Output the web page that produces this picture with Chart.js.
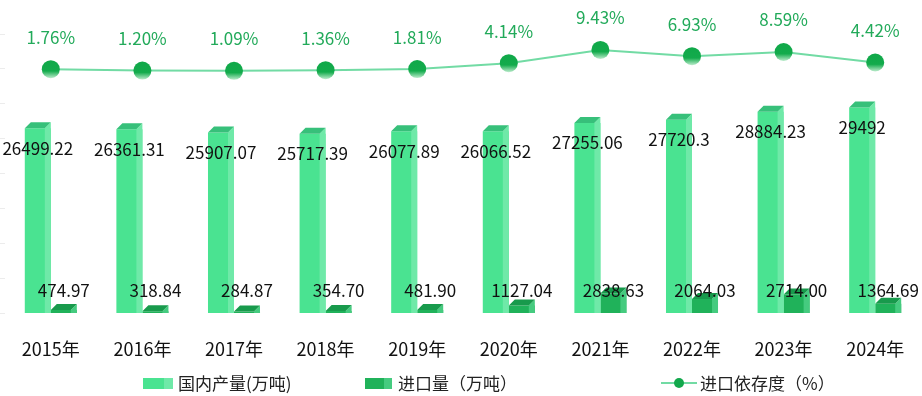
<!DOCTYPE html>
<html lang="zh">
<head>
    <meta charset="UTF-8">
    <title>国内产量与进口量</title>
    <script src="https://cdn.jsdelivr.net/npm/chart.js"></script>
    <style>
        body { margin: 0; background: #fff; font-family: "Noto Sans CJK SC", sans-serif; }
        .wrap { position: relative; width: 922px; height: 396px; }
        .legend-box { position: absolute; height: 11px; top: 378px; }
        .legend-text { position: absolute; top: 372px; font-size: 17px; line-height: 22px; color: #222; white-space: nowrap; }
        .legend-line { position: absolute; top: 382px; height: 2px; background: #72dba4; }
        .legend-dot { position: absolute; top: 378px; width: 10px; height: 10px; border-radius: 50%; background: #12a84c; }
    </style>
</head>
<body>
    <div class="wrap">
        <canvas id="chart" width="922" height="396"></canvas>
        <div class="legend-box" style="left:143px;width:30px;background:linear-gradient(90deg,#4ae391 70%,#6fe9a8 70%);"></div>
        <div class="legend-text" style="left:178px;">国内产量(万吨)</div>
        <div class="legend-box" style="left:365px;width:27px;background:linear-gradient(90deg,#20b25a 70%,#45cb7f 70%);"></div>
        <div class="legend-text" style="left:398px;">进口量（万吨）</div>
        <div class="legend-line" style="left:661px;width:36px;"></div>
        <div class="legend-dot" style="left:674px;"></div>
        <div class="legend-text" style="left:700px;">进口依存度（%）</div>
    </div>

    <script>
        const years = ['2015年', '2016年', '2017年', '2018年', '2019年', '2020年', '2021年', '2022年', '2023年', '2024年'];
        const domestic = [26499.22, 26361.31, 25907.07, 25717.39, 26077.89, 26066.52, 27255.06, 27720.3, 28884.23, 29492];
        const domesticText = ['26499.22', '26361.31', '25907.07', '25717.39', '26077.89', '26066.52', '27255.06', '27720.3', '28884.23', '29492'];
        const imports = [474.97, 318.84, 284.87, 354.70, 481.90, 1127.04, 2838.63, 2064.03, 2714.00, 1364.69];
        const importText = ['474.97', '318.84', '284.87', '354.70', '481.90', '1127.04', '2838.63', '2064.03', '2714.00', '1364.69'];
        const dependence = [1.76, 1.20, 1.09, 1.36, 1.81, 4.14, 9.43, 6.93, 8.59, 4.42];

        const FONT = '"Noto Sans CJK SC", sans-serif';
        const faces = [
            { side: '#6fe9a8', top: '#37c07a' },
            { side: '#45cb7f', top: '#189a4c' }
        ];

        // side + top faces so the bars look like boxes
        const boxPlugin = {
            id: 'box3d',
            afterDatasetDraw(chart, args) {
                const f = faces[args.index];
                if (!f) return;
                const ctx = chart.ctx;
                const d = 6;
                args.meta.data.forEach(bar => {
                    const p = bar.getProps(['x', 'y', 'base', 'width'], true);
                    const xL = p.x - p.width / 2, xR = p.x + p.width / 2;
                    ctx.save();
                    ctx.fillStyle = f.side;
                    ctx.beginPath();
                    ctx.moveTo(xR - d, p.y);
                    ctx.lineTo(xR, p.y - d);
                    ctx.lineTo(xR, p.base);
                    ctx.lineTo(xR - d, p.base);
                    ctx.closePath();
                    ctx.fill();
                    ctx.fillStyle = f.top;
                    ctx.beginPath();
                    ctx.moveTo(xL, p.y);
                    ctx.lineTo(xL + d, p.y - d);
                    ctx.lineTo(xR, p.y - d);
                    ctx.lineTo(xR - d, p.y);
                    ctx.closePath();
                    ctx.fill();
                    ctx.restore();
                });
            },
            afterDatasetsDraw(chart) {
                const ctx = chart.ctx;
                ctx.save();
                ctx.textAlign = 'center';
                ctx.textBaseline = 'middle';
                ctx.font = '17px ' + FONT;

                const m0 = chart.getDatasetMeta(0);
                m0.data.forEach((bar, i) => {
                    ctx.fillStyle = '#111';
                    ctx.fillText(domesticText[i], bar.x, bar.y + 20);
                });
                const m1 = chart.getDatasetMeta(1);
                m1.data.forEach((bar, i) => {
                    ctx.fillStyle = '#111';
                    ctx.fillText(importText[i], bar.x, bar.base - 22);
                });

                // line points with a soft gradient, and % labels
                const m2 = chart.getDatasetMeta(2);
                m2.data.forEach((pt, i) => {
                    const g = ctx.createLinearGradient(0, pt.y - 9, 0, pt.y + 9);
                    g.addColorStop(0, '#10a849');
                    g.addColorStop(0.6, '#13ab4c');
                    g.addColorStop(1, '#bdeccd');
                    ctx.fillStyle = g;
                    ctx.beginPath();
                    ctx.arc(pt.x, pt.y, 9, 0, Math.PI * 2);
                    ctx.fill();
                    ctx.fillStyle = '#22aa5a';
                    ctx.fillText(dependence[i].toFixed(2) + '%', pt.x, pt.y - 32);
                });
                ctx.restore();
            }
        };

        new Chart(document.getElementById('chart'), {
            data: {
                labels: years,
                datasets: [
                    {
                        type: 'bar',
                        label: '国内产量(万吨)',
                        data: domestic,
                        backgroundColor: '#4ae391',
                        yAxisID: 'y',
                        order: 2
                    },
                    {
                        type: 'bar',
                        label: '进口量（万吨）',
                        data: imports,
                        backgroundColor: '#20b25a',
                        yAxisID: 'y',
                        order: 2
                    },
                    {
                        type: 'line',
                        label: '进口依存度（%）',
                        data: dependence,
                        borderColor: '#72dba4',
                        borderWidth: 2,
                        pointRadius: 0,
                        tension: 0,
                        yAxisID: 'y2',
                        order: 1
                    }
                ]
            },
            options: {
                responsive: false,
                animation: false,
                categoryPercentage: 0.568,
                barPercentage: 1,
                layout: { padding: { top: 34, bottom: 11, right: 1, left: 0 } },
                plugins: {
                    legend: { display: false },
                    tooltip: { enabled: false }
                },
                scales: {
                    x: {
                        grid: { display: false, drawTicks: false },
                        border: { display: false },
                        ticks: { padding: 25, color: '#111', font: { family: FONT, size: 18 } },
                        afterFit(scale) {
                            scale.paddingLeft = 0;
                            scale.paddingRight = 0;
                        }
                    },
                    y: {
                        min: 0,
                        max: 40000,
                        ticks: { display: false, stepSize: 5000 },
                        grid: { drawOnChartArea: false, tickLength: 5, color: '#ececec' },
                        border: { display: false }
                    },
                    y2: {
                        display: false,
                        min: -95.35,
                        max: 15.75
                    }
                }
            },
            plugins: [boxPlugin]
        });
    </script>
</body>
</html>
